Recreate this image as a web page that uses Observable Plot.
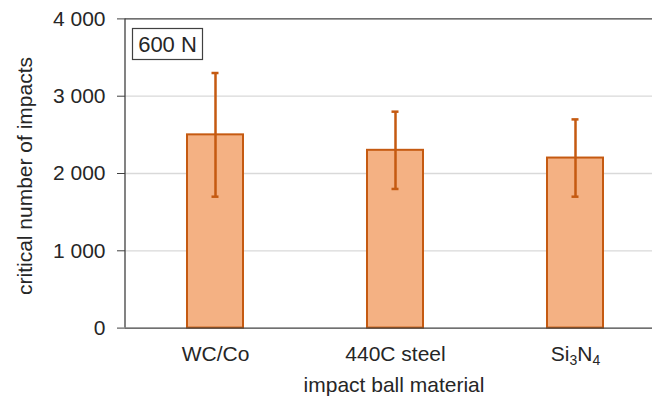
<!DOCTYPE html>
<html><head><meta charset="utf-8">
<script src="https://cdn.jsdelivr.net/npm/d3@7"></script>
<script src="https://cdn.jsdelivr.net/npm/@observablehq/plot@0.6"></script>
<style>body{margin:0;background:#fff}</style>
</head><body><div id="chart"></div>
<script>
const materials = ["WC/Co", "440C steel", "Si3N4"];
const meanImpacts = [2500, 2300, 2200];
const lowImpacts = [1700, 1800, 1700];
const highImpacts = [3300, 2800, 2700];
const yTicks = [0, 1000, 2000, 3000, 4000];
const gridValues = [1000, 2000, 3000];
const frameValues = [0, 4000];
const loadLabel = "600 N";
const xTitle = "impact ball material";
const yTitle = "critical number of impacts";

const data = materials.map((m, i) => ({material: m, mean: meanImpacts[i], low: lowImpacts[i], high: highImpacts[i]}));
const fmt = d => d3.format(",")(d).replace(/,/g, " ");
const font = "'Liberation Sans', Arial, sans-serif";
const ink = "#262626";
const axisInk = "#404040";
const orange = "#c55a11";

const plot = Plot.plot({
  width: 652, height: 400,
  marginLeft: 125, marginRight: 0, marginTop: 18.4, marginBottom: 72.4,
  style: {fontFamily: font, fontSize: "21px", color: ink, background: "white", overflow: "visible"},
  x: {domain: materials, range: [125, 665], paddingInner: 0.69, paddingOuter: 0.345, label: null},
  y: {domain: [0, 4000], label: null},
  marks: [
    Plot.ruleY(gridValues, {stroke: "#d9d9d9", strokeWidth: 1.3}),
    Plot.barY(data, {x: "material", y: "mean", fill: "#f4b183", stroke: orange, strokeWidth: 2}),
    Plot.ruleX(data, {x: "material", y1: "low", y2: "high", stroke: orange, strokeWidth: 2.5}),
    Plot.tickY(data, {x: "material", y: "low", stroke: orange, strokeWidth: 2.5, insetLeft: 24.5, insetRight: 24.5}),
    Plot.tickY(data, {x: "material", y: "high", stroke: orange, strokeWidth: 2.5, insetLeft: 24.5, insetRight: 24.5}),
    Plot.ruleY(frameValues, {stroke: axisInk, strokeWidth: 1.3}),
    Plot.axisY({ticks: yTicks, tickFormat: fmt, tickSize: 8, tickPadding: 12, stroke: axisInk, label: null}),
    Plot.axisX({tickSize: 0, tickPadding: 18.4, label: null})
  ]
});

document.getElementById("chart").appendChild(plot);
const svg = d3.select(plot);
const ys = plot.scale("y");
const xLeft = 125;

// left axis line
svg.append("line")
  .attr("x1", xLeft).attr("x2", xLeft)
  .attr("y1", ys.apply(4000)).attr("y2", ys.apply(0))
  .attr("stroke", axisInk).attr("stroke-width", 1.3);

// subscript for Si3N4
svg.selectAll("text").each(function() {
  if (this.textContent === "Si3N4") {
    const t = d3.select(this);
    t.text(null);
    t.append("tspan").text("Si");
    t.append("tspan").text("3").attr("font-size", "14px").attr("dy", "4");
    t.append("tspan").text("N").attr("dy", "-4");
    t.append("tspan").text("4").attr("font-size", "14px").attr("dy", "4");
  }
});

// axis titles
svg.append("text")
  .attr("transform", "translate(24.6,176) rotate(-90)")
  .attr("text-anchor", "middle").attr("dy", "0.35em")
  .attr("font-family", font).attr("font-size", 21).attr("fill", ink)
  .text(yTitle);
svg.append("text")
  .attr("x", 394).attr("y", 392)
  .attr("text-anchor", "middle")
  .attr("font-family", font).attr("font-size", 21).attr("fill", ink)
  .text(xTitle);

// load label box
const lg = svg.append("g");
lg.append("rect").attr("x", 132.5).attr("y", 28.5).attr("width", 70).attr("height", 31)
  .attr("fill", "white").attr("stroke", axisInk).attr("stroke-width", 1.2);
lg.append("text").attr("x", 167.5).attr("y", 44).attr("dy", "0.36em")
  .attr("text-anchor", "middle")
  .attr("font-family", font).attr("font-size", 22).attr("fill", ink)
  .text(loadLabel);
</script>
</body></html>
